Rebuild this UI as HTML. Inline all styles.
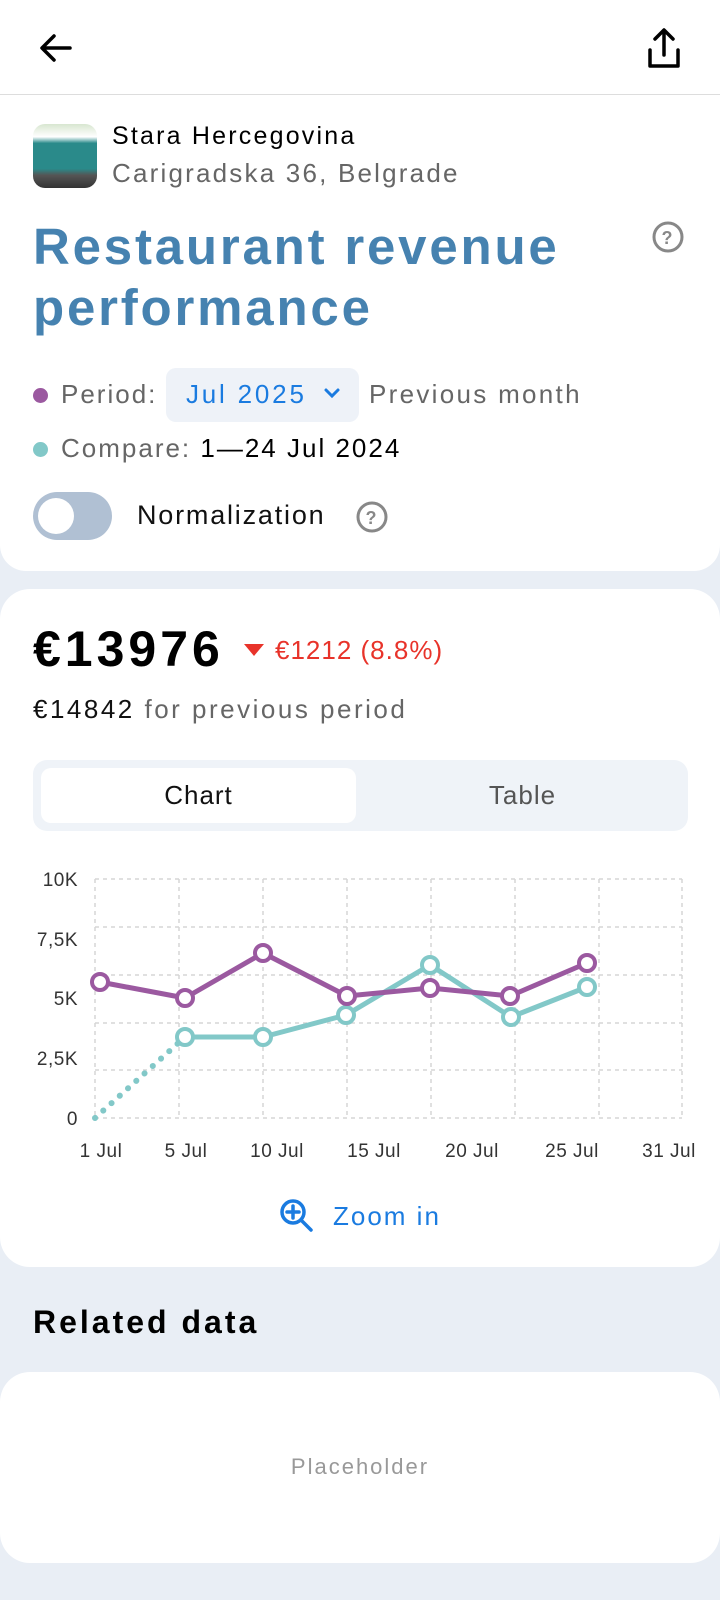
<!DOCTYPE html>
<html><head><meta charset="utf-8"><style>
*{margin:0;padding:0;box-sizing:border-box}
body{width:720px;height:1600px;background:#e9eef5;font-family:"Liberation Sans",sans-serif;position:relative;overflow:hidden;letter-spacing:2px}
.a{position:absolute;white-space:nowrap}
</style></head><body>
<div class="a" style="left:0;top:0;width:720px;height:571px;background:#fff;border-radius:0 0 26px 26px"></div>
<div class="a" style="left:0;top:94px;width:720px;height:1px;background:#ddd"></div>
<svg class="a" style="left:36px;top:28px" width="40" height="40" viewBox="0 0 40 40"><path d="M34 20H7M18 8L6 20l12 12" stroke="#000" stroke-width="3.5" fill="none" stroke-linecap="round" stroke-linejoin="round"/></svg>
<svg class="a" style="left:646px;top:28px" width="36" height="42" viewBox="0 0 36 42"><path d="M18 3v24M9 11l9-9 9 9M4 22v16h28V22" stroke="#000" stroke-width="3.5" fill="none" stroke-linecap="round" stroke-linejoin="round"/></svg>
<div class="a" style="left:33px;top:124px;width:64px;height:64px;border-radius:12px;overflow:hidden;background:linear-gradient(#d8e6d0 0,#fff 20%,#2a8a8a 30%,#2a8a8a 70%,#555 80%,#333 100%)"></div>
<div class="a" style="left:112px;top:122px;font-size:25px;color:#000;letter-spacing:2.2px">Stara Hercegovina</div>
<div class="a" style="left:112px;top:158px;font-size:26px;color:#666;letter-spacing:2.2px">Carigradska 36, Belgrade</div>
<div class="a" style="left:33px;top:216px;font-size:51px;font-weight:bold;color:#4682b0;line-height:61px;letter-spacing:2.8px">Restaurant revenue<br>performance</div>
<svg class="a" style="left:651px;top:220px" width="34" height="34"><circle cx="17" cy="17" r="14" stroke="#888" stroke-width="3" fill="none"/><text x="17" y="24" font-size="18" font-weight="bold" fill="#888" text-anchor="middle" font-family="Liberation Sans">?</text></svg>
<div class="a" style="left:33px;top:388px;width:15px;height:15px;border-radius:50%;background:#9b59a0"></div>
<div class="a" style="left:61px;top:379px;font-size:26px;color:#666">Period:</div>
<div class="a" style="left:166px;top:368px;width:193px;height:54px;border-radius:10px;background:#eef2f8"></div>
<div class="a" style="left:186px;top:379px;font-size:26px;color:#1a7be0;letter-spacing:2.8px">Jul 2025</div>
<svg class="a" style="left:323px;top:387px" width="18" height="14"><path d="M3 3l6 6 6-6" stroke="#1a7be0" stroke-width="3" fill="none" stroke-linecap="round"/></svg>
<div class="a" style="left:369px;top:379px;font-size:26px;color:#666;letter-spacing:2.3px">Previous month</div>
<div class="a" style="left:33px;top:442px;width:15px;height:15px;border-radius:50%;background:#82c8c8"></div>
<div class="a" style="left:61px;top:433px;font-size:26px;color:#666">Compare: <span style="color:#000">1—24 Jul 2024</span></div>
<div class="a" style="left:33px;top:492px;width:79px;height:48px;border-radius:24px;background:#b0c0d3"></div>
<div class="a" style="left:38px;top:498px;width:36px;height:36px;border-radius:50%;background:#fff"></div>
<div class="a" style="left:137px;top:500px;font-size:27px;color:#111;letter-spacing:1.8px">Normalization</div>
<svg class="a" style="left:355px;top:500px" width="34" height="34"><circle cx="17" cy="17" r="14" stroke="#888" stroke-width="3" fill="none"/><text x="17" y="24" font-size="18" font-weight="bold" fill="#888" text-anchor="middle" font-family="Liberation Sans">?</text></svg>

<div class="a" style="left:0;top:589px;width:720px;height:678px;background:#fff;border-radius:30px"></div>
<div class="a" style="left:33px;top:620px;font-size:50px;font-weight:bold;color:#000;letter-spacing:4px">€13976</div>
<svg class="a" style="left:244px;top:644px" width="20" height="14"><path d="M0 0h20L10 12z" fill="#e8332a"/></svg>
<div class="a" style="left:275px;top:635px;font-size:26px;color:#e8332a;letter-spacing:1px">€1212 (8.8%)</div>
<div class="a" style="left:33px;top:694px;font-size:26px;color:#666;letter-spacing:2.5px"><span style="color:#111">€14842</span> for previous period</div>
<div class="a" style="left:33px;top:760px;width:655px;height:71px;border-radius:14px;background:#eff3f8"></div>
<div class="a" style="left:41px;top:768px;width:315px;height:55px;border-radius:10px;background:#fff"></div>
<div class="a" style="left:41px;top:780px;width:315px;text-align:center;font-size:26px;color:#111;letter-spacing:1px">Chart</div>
<div class="a" style="left:365px;top:780px;width:315px;text-align:center;font-size:26px;color:#555;letter-spacing:1px">Table</div>

<svg class="a" style="left:0;top:840px" width="720" height="340" font-family="Liberation Sans" font-size="19" fill="#333" letter-spacing="0.5">
<g transform="translate(0,-840)" stroke="#d6d6d6" stroke-width="1.5" stroke-dasharray="4 4">
<line x1="95" y1="879" x2="682" y2="879"/><line x1="95" y1="927" x2="682" y2="927"/><line x1="95" y1="975" x2="682" y2="975"/><line x1="95" y1="1023" x2="682" y2="1023"/><line x1="95" y1="1070" x2="682" y2="1070"/><line x1="95" y1="1118" x2="682" y2="1118"/>
<line x1="95" y1="879" x2="95" y2="1118"/><line x1="179" y1="879" x2="179" y2="1118"/><line x1="263" y1="879" x2="263" y2="1118"/><line x1="347" y1="879" x2="347" y2="1118"/><line x1="431" y1="879" x2="431" y2="1118"/><line x1="515" y1="879" x2="515" y2="1118"/><line x1="599" y1="879" x2="599" y2="1118"/><line x1="682" y1="879" x2="682" y2="1118"/>
</g>
<g transform="translate(0,-840)" text-anchor="end">
<text x="78" y="886">10K</text><text x="78" y="946">7,5K</text><text x="78" y="1005">5K</text><text x="78" y="1065">2,5K</text><text x="78" y="1125">0</text>
</g>
<g transform="translate(0,-840)" text-anchor="middle">
<text x="101" y="1157">1 Jul</text><text x="186" y="1157">5 Jul</text><text x="277" y="1157">10 Jul</text><text x="374" y="1157">15 Jul</text><text x="472" y="1157">20 Jul</text><text x="572" y="1157">25 Jul</text><text x="669" y="1157">31 Jul</text>
</g>
<g transform="translate(0,-840)" fill="none" stroke-linecap="round" stroke-linejoin="round">
<path d="M95 1118L185 1037" stroke="#82c8c8" stroke-width="6" stroke-dasharray="0.1 11"/>
<path d="M185 1037L263 1037L346 1015L430 965L511 1017L587 987" stroke="#82c8c8" stroke-width="5"/>
<path d="M100 982L185 998L263 953L347 996L430 988L510 996L587 963" stroke="#9b59a0" stroke-width="5"/>
<g stroke="#82c8c8" stroke-width="4" fill="#fff"><circle cx="185" cy="1037" r="8"/><circle cx="263" cy="1037" r="8"/><circle cx="346" cy="1015" r="8"/><circle cx="430" cy="965" r="8"/><circle cx="511" cy="1017" r="8"/><circle cx="587" cy="987" r="8"/></g>
<g stroke="#9b59a0" stroke-width="4" fill="#fff"><circle cx="100" cy="982" r="8"/><circle cx="185" cy="998" r="8"/><circle cx="263" cy="953" r="8"/><circle cx="347" cy="996" r="8"/><circle cx="430" cy="988" r="8"/><circle cx="510" cy="996" r="8"/><circle cx="587" cy="963" r="8"/></g>
</g>
</svg>
<svg class="a" style="left:279px;top:1198px" width="36" height="36"><circle cx="14" cy="14" r="11" stroke="#1a7be0" stroke-width="3.5" fill="none"/><path d="M22 22l10 10M14 8v12M8 14h12" stroke="#1a7be0" stroke-width="3.5" stroke-linecap="round"/></svg>
<div class="a" style="left:333px;top:1201px;font-size:26px;color:#1a7be0;letter-spacing:2px">Zoom in</div>

<div class="a" style="left:33px;top:1304px;font-size:32px;font-weight:bold;color:#000;letter-spacing:3px">Related data</div>
<div class="a" style="left:0;top:1372px;width:720px;height:191px;background:#fff;border-radius:30px"></div>
<div class="a" style="left:0;top:1454px;width:720px;text-align:center;font-size:22px;color:#999;letter-spacing:2px">Placeholder</div>
</body></html>
